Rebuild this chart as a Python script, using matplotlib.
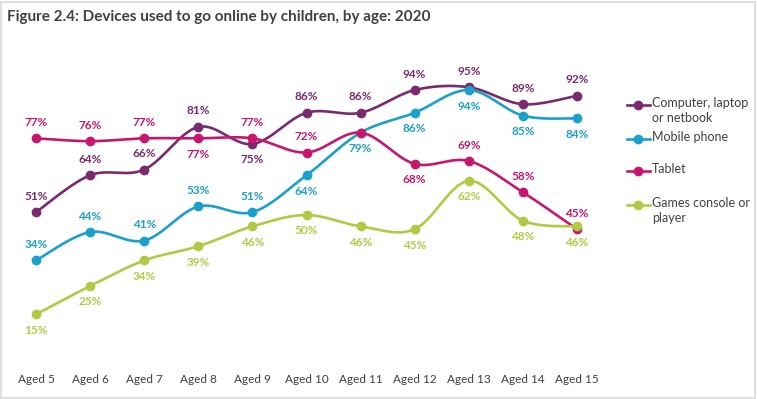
import numpy as np
import matplotlib
matplotlib.use("Agg")
from matplotlib import pyplot as plt
from matplotlib.lines import Line2D
from matplotlib.patches import Rectangle

plt.rcParams['font.family'] = ['Lato', 'DejaVu Sans']

ages = ['Aged 5', 'Aged 6', 'Aged 7', 'Aged 8', 'Aged 9', 'Aged 10',
        'Aged 11', 'Aged 12', 'Aged 13', 'Aged 14', 'Aged 15']

computer = [51, 64, 66, 81, 75, 86, 86, 94, 95, 89, 92]
mobile = [34, 44, 41, 53, 51, 64, 79, 86, 94, 85, 84]
tablet = [77, 76, 77, 77, 77, 72, 79, 68, 69, 58, 45]
games = [15, 25, 34, 39, 46, 50, 46, 45, 62, 48, 46]

# label placement: 1 above, -1 below, 0 none
computer_pos = [1, 1, 1, 1, -1, 1, 1, 1, 1, 1, 1]
mobile_pos = [1, 1, 1, 1, 1, -1, -1, -1, -1, -1, -1]
tablet_pos = [1, 1, 1, -1, 1, 1, 0, -1, 1, 1, 1]
games_pos = [-1] * 11

series = [
    ('Computer, laptop\nor netbook', computer, computer_pos, '#7b2a6f'),
    ('Mobile phone', mobile, mobile_pos, '#1ba0cc'),
    ('Tablet', tablet, tablet_pos, '#c8166e'),
    ('Games console or\nplayer', games, games_pos, '#b3c944'),
]


def smooth(x, y, n=30):
    # excel style smoothed line (bezier through the points)
    x = np.asarray(x, float)
    y = np.asarray(y, float)
    px = np.concatenate([[x[0]], x, [x[-1]]])
    py = np.concatenate([[y[0]], y, [y[-1]]])
    t = np.linspace(0, 1, n)
    xs, ys = [], []
    for i in range(1, len(px) - 2):
        c1x = px[i] + (px[i + 1] - px[i - 1]) / 6
        c1y = py[i] + (py[i + 1] - py[i - 1]) / 6
        c2x = px[i + 1] - (px[i + 2] - px[i]) / 6
        c2y = py[i + 1] - (py[i + 2] - py[i]) / 6
        b0 = (1 - t) ** 3
        b1 = 3 * (1 - t) ** 2 * t
        b2 = 3 * (1 - t) * t ** 2
        b3 = t ** 3
        xs.append(b0 * px[i] + b1 * c1x + b2 * c2x + b3 * px[i + 1])
        ys.append(b0 * py[i] + b1 * c1y + b2 * c2y + b3 * py[i + 1])
    return np.concatenate(xs), np.concatenate(ys)


fig = plt.figure(figsize=(7.57, 3.99), dpi=100)
ax = fig.add_axes([9 / 757, 42 / 399, 595 / 757, 284 / 399])

x = np.arange(len(ages))
for name, vals, pos, col in series:
    sx, sy = smooth(x, vals)
    ax.plot(sx, sy, color=col, lw=1.9, solid_capstyle='round', zorder=2)
    ax.plot(x, vals, 'o', color=col, ms=6, zorder=3)
    for xi, v, p in zip(x, vals, pos):
        if p == 0:
            continue
        ax.annotate('%d%%' % v, (xi, v), xytext=(0, 11.5 * p),
                    textcoords='offset points', ha='center', va='center',
                    fontsize=8.5, fontweight='bold', color=col)

ax.set_xlim(-0.5, len(ages) - 0.5)
ax.set_ylim(0, 100)
ax.set_xticks(x)
ax.set_xticklabels(ages, fontsize=8.5, color='#404040')
ax.tick_params(axis='x', length=0, pad=12)
ax.set_yticks([])
for s in ax.spines.values():
    s.set_visible(False)

# legend drawn by hand so the handle sits on the first text line
leg_y = [105, 139, 171, 205]
for (name, vals, pos, col), yy in zip(series, leg_y):
    fy = 1 - yy / 399
    fig.add_artist(Line2D([627 / 757, 650 / 757], [fy, fy], color=col, lw=1.9))
    fig.add_artist(Line2D([638 / 757], [fy], marker='o', color=col, ms=6))
    fig.text(652 / 757, fy + 8 / 399, name, fontsize=9, color='#404040',
             va='top', ha='left', linespacing=1.25)

fig.text(7 / 757, 1 - 17 / 399, 'Figure 2.4: Devices used to go online by children, by age: 2020',
         fontsize=11, fontweight='bold', color='#404040', va='center', ha='left')

fig.add_artist(Rectangle((1 / 757, 1 / 399), 754 / 757, 396 / 399, fill=False,
                         edgecolor='#d9d9d9', lw=1.2, transform=fig.transFigure))

fig.savefig('out.png', dpi=100)
